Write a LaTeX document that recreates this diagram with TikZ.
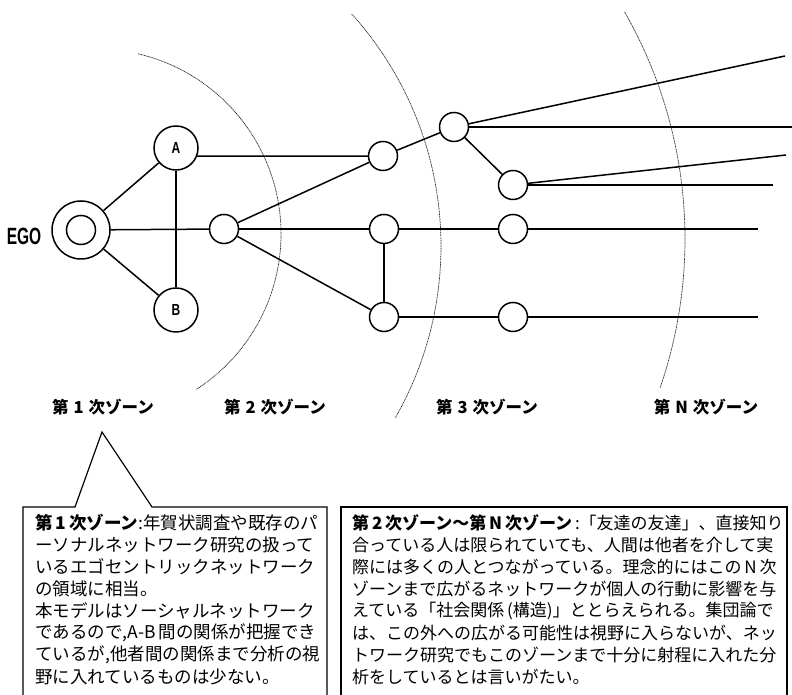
\documentclass[tikz,border=0pt]{standalone}
\usepackage{fontspec}
\newfontfamily\jp{Noto Sans CJK JP}
\newfontfamily\labfont{Liberation Sans}
\usepackage{graphicx}
\begin{document}
\begin{tikzpicture}[x=1pt,y=1pt]
\tikzset{
  conn/.style={line width=1.5pt},
  bigcirc/.style={circle, draw, line width=1.5pt, minimum size=44pt, inner sep=0pt},
  smallcirc/.style={circle, draw, line width=1.5pt, minimum size=29pt, inner sep=0pt},
  zonearc/.style={line width=0.7pt, dash pattern=on 1pt off 0.6pt, black!85},
  zonelabel/.style={inner sep=0pt, font=\jp\bfseries\fontsize{16.5}{16.5}\selectfont},
  leftbody/.style={anchor=west, inner sep=0pt, font=\jp\fontsize{17.5}{17.5}\selectfont},
  rightbody/.style={anchor=west, inner sep=0pt, font=\jp\fontsize{17}{17}\selectfont},
  boxline/.style={line width=1.2pt},
  letter/.style={inner sep=0pt, font=\labfont\bfseries\fontsize{16}{16}\selectfont},
}
\useasboundingbox (0,0) rectangle (792,695);

% zone arcs
\draw[zonearc] (96,461) ++(76.9:185pt) arc[start angle=76.9, end angle=-57.1, radius=185pt];
\draw[zonearc] (95,449) ++(42.1:346pt) arc[start angle=42.1, end angle=-29.8, radius=346pt];
\draw[zonearc] (228,456) ++(29.8:457pt) arc[start angle=29.8, end angle=-19.0, radius=457pt];

% nodes
\node[circle, draw, line width=1.5pt, minimum size=58pt, inner sep=0pt] (ego) at (81,465) {};
\node[smallcirc] (egoin) at (ego) {};
\node[bigcirc] (A) at (176,547) {};
\node[bigcirc] (B) at (176,385) {};
\node[letter] (Alab) at (A) {\scalebox{0.75}[1]{A}};
\node[letter] (Blab) at (B) {\scalebox{0.75}[1]{B}};
\node[inner sep=0pt, font=\labfont\bfseries\fontsize{23.5}{23.5}\selectfont] (egolab) at (24,459) {\scalebox{0.66}[1]{EGO}};

\node[smallcirc] (m0) at (224,466) {};
\node[smallcirc] (n1) at (383,539) {};
\node[smallcirc] (n2) at (454,568) {};
\node[smallcirc] (n3) at (513,510) {};
\node[smallcirc] (m1) at (384,466) {};
\node[smallcirc] (m2) at (513,466) {};
\node[smallcirc] (b1) at (384,378) {};
\node[smallcirc] (b2) at (513,378) {};

% free ends
\coordinate (e1) at (785,639);
\coordinate (e2) at (792,568);
\coordinate (e3) at (786,540);
\coordinate (e4) at (773,510);
\coordinate (e5) at (758,466);
\coordinate (e6) at (758,378);

% connectors
\draw[conn] (ego) -- (A);
\draw[conn] (ego) -- (B);
\draw[conn] (ego) -- (m0);
\draw[conn] (A) -- (B);
\draw[conn] (A.-21) -- (n1);
\draw[conn] (m0) -- (n1);
\draw[conn] (m0) -- (b1);
\draw[conn] (m0) -- (m1);
\draw[conn] (n1) -- (n2);
\draw[conn] (n2) -- (n3);
\draw[conn] (m1) -- (m2);
\draw[conn] (m1) -- (b1);
\draw[conn] (b1) -- (b2);
\draw[conn] (n2) -- (e1);
\draw[conn] (n2) -- (e2);
\draw[conn] (n3) -- (e3);
\draw[conn] (n3) -- (e4);
\draw[conn] (m2) -- (e5);
\draw[conn] (b2) -- (e6);

% zone labels
\node[zonelabel] (z1) at (103,288) {第\hspace{5pt}1\hspace{5pt}次ゾーン};
\node[zonelabel] (z2) at (275,288) {第\hspace{5pt}2\hspace{5pt}次ゾーン};
\node[zonelabel] (z3) at (487,288) {第\hspace{5pt}3\hspace{5pt}次ゾーン};
\node[zonelabel] (zn) at (706,288) {第\hspace{5pt}N\hspace{5pt}次ゾーン};

% callout boxes
\coordinate (apex) at (102,263);
\draw[boxline] (23,-2) -- (23,188) -- (75,188) -- (apex) -- (152,188) -- (327,188) -- (327,-2);
\draw[boxline] (341,-2) -- (341,188) -- (787,188) -- (787,-2);

% left box text
\node[leftbody] (l1) at (35,172) {{\bfseries 第\,1\,次ゾーン}:年賀状調査や既存のパ};
\node[leftbody] (l2) at (35,150) {ーソナルネットワーク研究の扱って};
\node[leftbody] (l3) at (35,128) {いるエゴセントリックネットワーク};
\node[leftbody] (l4) at (35,106) {の領域に相当。};
\node[leftbody] (l5) at (35,84) {本モデルはソーシャルネットワーク};
\node[leftbody] (l6) at (35,62) {であるので,A-B\,間の関係が把握でき};
\node[leftbody] (l7) at (35,40) {ているが,他者間の関係まで分析の視};
\node[leftbody] (l8) at (35,18) {野に入れているものは少ない。};

% right box text
\node[rightbody] (r1) at (352,172) {{\bfseries 第\,2\,次ゾーン〜第\,N\,次ゾーン}\,:「友達の友達」、直接知り};
\node[rightbody] (r2) at (352,150) {合っている人は限られていても、人間は他者を介して実};
\node[rightbody] (r3) at (352,128) {際には多くの人とつながっている。理念的にはこの\,N\,次};
\node[rightbody] (r4) at (352,106) {ゾーンまで広がるネットワークが個人の行動に影響を与};
\node[rightbody] (r5) at (352,84) {えている「社会関係\,(構造)」ととらえられる。集団論で};
\node[rightbody] (r6) at (352,62) {は、この外への広がる可能性は視野に入らないが、ネッ};
\node[rightbody] (r7) at (352,40) {トワーク研究でもこのゾーンまで十分に射程に入れた分};
\node[rightbody] (r8) at (352,18) {析をしているとは言いがたい。};
\end{tikzpicture}
\end{document}
